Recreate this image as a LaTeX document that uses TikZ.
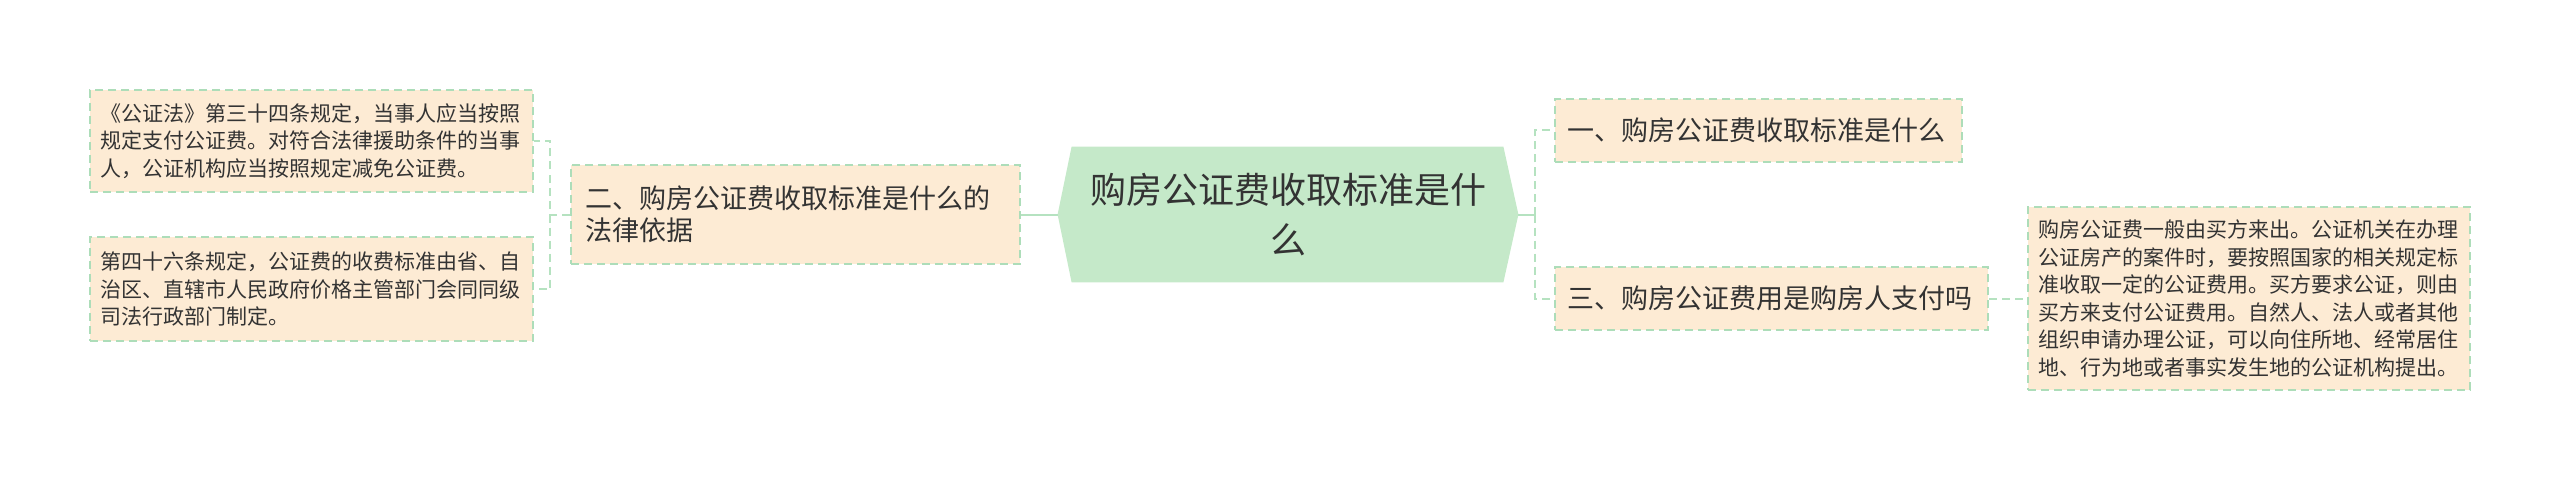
\documentclass[tikz,border=0pt]{standalone}
\usepackage{fontspec}
\setmainfont{Noto Sans CJK SC}
\usetikzlibrary{backgrounds}
\definecolor{peach}{HTML}{FDEBD4}
\definecolor{bordergreen}{HTML}{ADDDB9}
\definecolor{linegreen}{HTML}{B5E2C0}
\definecolor{cfill}{HTML}{C5E9C9}
\definecolor{txt}{HTML}{333333}
\tikzset{
  box/.style={draw=bordergreen, fill=peach, line width=1pt, dash pattern=on 4pt off 2.5pt,
    align=left, inner xsep=6pt, inner ysep=0pt, text=txt},
  midbox/.style={box, font=\fontsize{13.5pt}{16pt}\selectfont},
  leafbox/.style={box, inner xsep=5pt, font=\fontsize{10.5pt}{13.8pt}\selectfont},
  title/.style={align=center, inner sep=0pt, text=txt, font=\fontsize{18pt}{25pt}\selectfont},
  link/.style={draw=linegreen, line width=1pt},
  dlink/.style={draw=linegreen, line width=1pt, dash pattern=on 4pt off 2.5pt},
}
\begin{document}
\begin{tikzpicture}[x=0.5pt,y=-0.5pt]
\useasboundingbox (0,0) rectangle (2560,481);

\node[title, minimum width=230pt, minimum height=67.5pt] (c) at (1288,214.5)
  {购房公证费收取标准是什\\么};
\begin{scope}[on background layer]
\fill[cfill] ([xshift=7pt]c.north west) -- ([xshift=-7.5pt]c.north east) -- (c.east)
  -- ([xshift=-7.5pt]c.south east) -- ([xshift=7pt]c.south west) -- (c.west) -- cycle;
\end{scope}

\node[midbox, text width=210.5pt, minimum height=49.5pt, inner xsep=7pt] (m2) at (795.5,214.5)
  {二、购房公证费收取标准是什么的\\法律依据};
\node[midbox, text width=191.5pt, minimum height=31.5pt] (m1) at (1758.5,130.5)
  {一、购房公证费收取标准是什么};
\node[midbox, text width=204.5pt, minimum height=31.5pt] (m3) at (1771.5,298.5)
  {三、购房公证费用是购房人支付吗};

\node[leafbox, text width=211.5pt, minimum height=51pt] (l1) at (311.5,141)
  {《公证法》第三十四条规定，当事人应当按照\\规定支付公证费。对符合法律援助条件的当事\\人，公证机构应当按照规定减免公证费。};
\node[leafbox, text width=211.5pt, minimum height=52pt] (l2) at (311.5,289)
  {第四十六条规定，公证费的收费标准由省、自\\治区、直辖市人民政府价格主管部门会同同级\\司法行政部门制定。};
\node[leafbox, text width=211pt, minimum height=91.5pt] (r1) at (2249,298.5)
  {购房公证费一般由买方来出。公证机关在办理\\公证房产的案件时，要按照国家的相关规定标\\准收取一定的公证费用。买方要求公证，则由\\买方来支付公证费用。自然人、法人或者其他\\组织申请办理公证，可以向住所地、经常居住\\地、行为地或者事实发生地的公证机构提出。};

\draw[link] (c.west) -- (m2.east);
\draw[link] (c.east) -- ++(17,0) coordinate (jr);
\draw[dlink] (jr) |- (m1.west);
\draw[dlink] (jr) |- (m3.west);
\draw[dlink] (m2.west) -- ++(-20,0) coordinate (jl) |- (l1.east);
\draw[dlink] (jl) |- (l2.east);
\draw[dlink] (m3.east) -- (r1.west);
\end{tikzpicture}
\end{document}
